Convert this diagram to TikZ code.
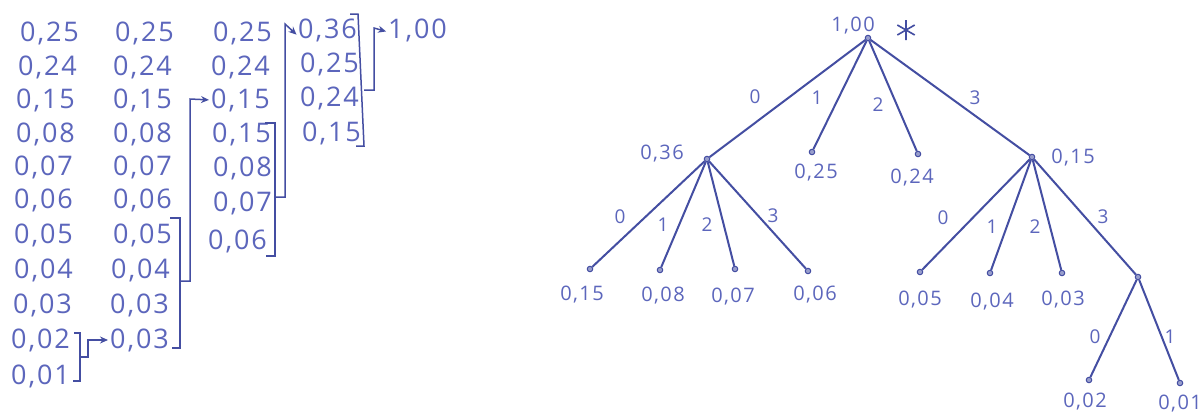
\documentclass[tikz,border=0pt]{standalone}
\usepackage{fontspec}
\setmainfont{Open Sans}
\newfontfamily\hand[LetterSpace=7]{Open Sans}
\usetikzlibrary{arrows.meta}
\definecolor{ink}{RGB}{68,78,162}
\definecolor{pen}{RGB}{92,102,188}
\begin{document}
\begin{tikzpicture}[x=1pt,y=-1pt,
 num/.style={text=pen,font=\hand\fontsize{27}{29}\selectfont,inner sep=0pt,anchor=west},
 lbl/.style={text=pen,font=\hand\fontsize{20}{22}\selectfont,inner sep=0pt},
 elbl/.style={text=pen,font=\fontsize{19}{21}\selectfont,inner sep=0pt},
 edge/.style={draw=ink,line width=2pt},
 brk/.style={draw=ink,line width=1.5pt},
 arr/.style={brk,-{Stealth[length=8pt,width=7pt]},shorten >=2pt},
 dot/.style={circle,draw=ink,fill=ink!55,inner sep=0pt,minimum size=5.5pt,line width=1pt}]
\useasboundingbox (0,0) rectangle (1204,416);
\fill[white] (0,0) rectangle (1204,416);

% ---- left table ----
\node[num] (a1) at (20,33) {0,25};
\node[num] (a2) at (18,67) {0,24};
\node[num] (a3) at (16,100) {0,15};
\node[num] (a4) at (16,134) {0,08};
\node[num] (a5) at (14,167) {0,07};
\node[num] (a6) at (14,200) {0,06};
\node[num] (a7) at (14,235) {0,05};
\node[num] (a8) at (14,270) {0,04};
\node[num] (a9) at (13,305) {0,03};
\node[num] (a10) at (11,340) {0,02};
\node[num] (a11) at (11,376) {0,01};

\node[num] (b1) at (115,33) {0,25};
\node[num] (b2) at (113,67) {0,24};
\node[num] (b3) at (113,100) {0,15};
\node[num] (b4) at (113,134) {0,08};
\node[num] (b5) at (113,167) {0,07};
\node[num] (b6) at (113,200) {0,06};
\node[num] (b7) at (113,235) {0,05};
\node[num] (b8) at (111,270) {0,04};
\node[num] (b9) at (110,305) {0,03};
\node[num] (b10) at (110,340) {0,03};

\node[num] (c1) at (213,33) {0,25};
\node[num] (c2) at (211,67) {0,24};
\node[num] (c3) at (211,100) {0,15};
\node[num] (c4) at (212,134) {0,15};
\node[num] (c5) at (213,168) {0,08};
\node[num] (c6) at (213,203) {0,07};
\node[num] (c7) at (208,241) {0,06};

\node[num] (d1) at (298,30) {0,36};
\node[num] (d2) at (300,64) {0,25};
\node[num] (d3) at (300,98) {0,24};
\node[num] (d4) at (302,133) {0,15};

\node[num] (e1) at (388,30) {1,00};

% brackets and arrows
\draw[brk] (74,333) -- (80,333) -- (80,381) -- (73,381);
\coordinate (k1) at (80,357);
\draw[arr] (k1) -- (88,357) -- (88,340) -- (b10.west);

\draw[brk] (170,218) -- (180,218) -- (180,348) -- (172,348);
\coordinate (k2) at (180,281);
\draw[arr] (k2) -- (190,281) -- (190,99) -- (c3.west);

\draw[brk] (265,123) -- (275,123) -- (275,256) -- (266,256);
\coordinate (k3) at (275,197);
\draw[arr] (k3) -- (285,197) -- (285,24) -- ([yshift=-6pt]d1.west);

\draw[brk] (350,14) -- (358,14) -- (364,146) -- (356,146);
\coordinate (k4) at (364,90);
\draw[arr] (k4) -- (374,90) -- (374,28) -- ([yshift=-2pt]e1.west);

% ---- tree ----
\node[dot] (t) at (868,38) {};
\node[lbl] at (853,26) {1,00};
\coordinate (star) at (906,30);
\draw[ink,line width=1.6pt] ([shift={(0,-10)}]star) -- ([shift={(0,10)}]star)
  ([shift={(-8.7,-5)}]star) -- ([shift={(8.7,5)}]star)
  ([shift={(-8.7,5)}]star) -- ([shift={(8.7,-5)}]star);

\node[dot] (n36) at (707,159) {};
\node[lbl] at (662,154) {0,36};
\node[dot] (l25) at (812,152) {};
\node[lbl] at (816,173) {0,25};
\node[dot] (l24) at (918,154) {};
\node[lbl] at (912,178) {0,24};
\node[dot] (n15) at (1032,157) {};
\node[lbl] at (1073,158) {0,15};

\draw[edge] (t) -- (n36);
\draw[edge] (t) -- (l25);
\draw[edge] (t) -- (l24);
\draw[edge] (t) -- (n15);
\node[elbl] at (755,97) {0};
\node[elbl] at (817,98) {1};
\node[elbl] at (878,105) {2};
\node[elbl] at (975,98) {3};

\node[dot] (m1) at (590,269) {};
\node[lbl] at (582,295) {0,15};
\node[dot] (m2) at (660,270) {};
\node[lbl] at (663,296) {0,08};
\node[dot] (m3) at (735,269) {};
\node[lbl] at (733,297) {0,07};
\node[dot] (m4) at (808,271) {};
\node[lbl] at (815,295) {0,06};
\draw[edge] (n36) -- (m1);
\draw[edge] (n36) -- (m2);
\draw[edge] (n36) -- (m3);
\draw[edge] (n36) -- (m4);
\node[elbl] at (620,217) {0};
\node[elbl] at (663,225) {1};
\node[elbl] at (707,225) {2};
\node[elbl] at (773,216) {3};

\node[dot] (p1) at (920,272) {};
\node[lbl] at (920,300) {0,05};
\node[dot] (p2) at (990,273) {};
\node[lbl] at (992,302) {0,04};
\node[dot] (p3) at (1062,273) {};
\node[lbl] at (1063,300) {0,03};
\node[dot] (p4) at (1138,277) {};
\draw[edge] (n15) -- (p1);
\draw[edge] (n15) -- (p2);
\draw[edge] (n15) -- (p3);
\draw[edge] (n15) -- (p4);
\node[elbl] at (943,218) {0};
\node[elbl] at (992,227) {1};
\node[elbl] at (1035,227) {2};
\node[elbl] at (1103,217) {3};

\node[dot] (q1) at (1089,380) {};
\node[lbl] at (1085,402) {0,02};
\node[dot] (q2) at (1180,383) {};
\node[lbl,anchor=east] at (1202,404) {0,01};
\draw[edge] (p4) -- (q1);
\draw[edge] (p4) -- (q2);
\node[elbl] at (1095,337) {0};
\node[elbl] at (1170,337) {1};
\end{tikzpicture}
\end{document}
